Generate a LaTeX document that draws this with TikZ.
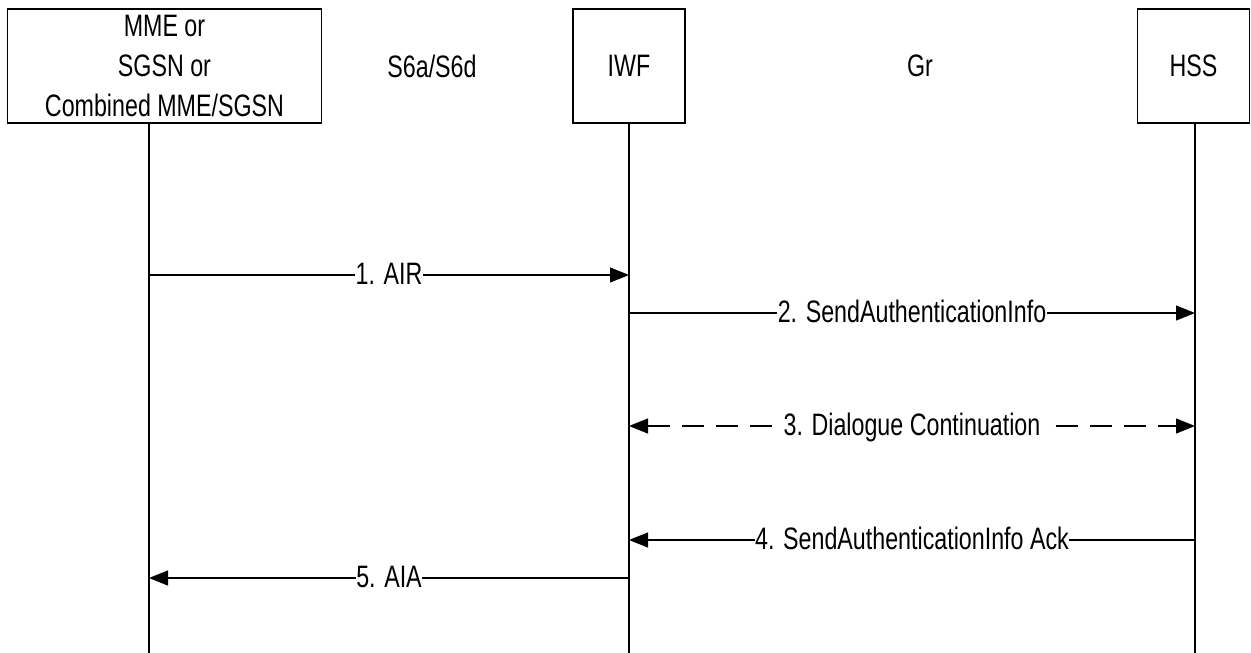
\documentclass[tikz,border=0pt]{standalone}
\usepackage{fontspec}
\setmainfont[FakeStretch=0.75]{Liberation Sans}
\usetikzlibrary{arrows.meta}
\tikzset{
  ent/.style={draw, line width=1.4pt, inner sep=0pt, align=center, font=\fontsize{31}{40}\selectfont},
  iface/.style={inner sep=0pt, font=\fontsize{31}{40}\selectfont},
  life/.style={line width=1.2pt},
  msg/.style={line width=1.2pt, -{Triangle[length=19pt,width=15pt]}},
  dmsg/.style={line width=1.2pt, {Triangle[length=19pt,width=15pt]}-{Triangle[length=19pt,width=15pt]}, dash pattern=on 22pt off 12pt},
  lbl/.style={fill=white, inner xsep=0.5pt, inner ysep=1pt, anchor=base, yshift=-9.5pt, font=\fontsize{31}{40}\selectfont}
}
\begin{document}
\begin{tikzpicture}[x=1pt, y=-1pt]
\useasboundingbox (0,0) rectangle (1251,653);
% entities
\node[ent, minimum width=314pt, minimum height=114pt] (mme) at (164.5,66) {MME or\\SGSN or\\Combined MME/SGSN};
\node[ent, minimum width=112pt, minimum height=114pt] (iwf) at (629,66) {IWF};
\node[ent, minimum width=112pt, minimum height=114pt] (hss) at (1193.5,66) {HSS};
\node[iface] (s6) at (432,66) {S6a/S6d};
\node[iface] (gr) at (920,66) {Gr};
% lifeline ends
\coordinate (mmeEnd) at (149,653);
\coordinate (iwfEnd) at (629,653);
\coordinate (hssEnd) at (1195,653);
\draw[life] (mmeEnd |- mme.south) -- (mmeEnd);
\draw[life] (iwf.south) -- (iwfEnd);
\draw[life] (hssEnd |- hss.south) -- (hssEnd);
% message points
\coordinate (m1a) at (149,275);  \coordinate (m1b) at (629,275);
\coordinate (m2a) at (629,313);  \coordinate (m2b) at (1195,313);
\coordinate (m3a) at (629,426);  \coordinate (m3b) at (1195,426);
\coordinate (m4a) at (1195,540); \coordinate (m4b) at (629,540);
\coordinate (m5a) at (629,578);  \coordinate (m5b) at (149,578);
% messages
\draw[msg] (m1a) -- (m1b) node[midway, lbl] (l1) {1. AIR};
\draw[msg] (m2a) -- (m2b) node[midway, lbl] (l2) {2. SendAuthenticationInfo};
\draw[dmsg] (m3a) -- (m3b) node[midway, lbl, inner xsep=6pt] (l3) {3. Dialogue Continuation};
\draw[msg] (m4a) -- (m4b) node[midway, lbl] (l4) {4. SendAuthenticationInfo Ack};
\draw[msg] (m5a) -- (m5b) node[midway, lbl] (l5) {5. AIA};
\end{tikzpicture}
\end{document}
